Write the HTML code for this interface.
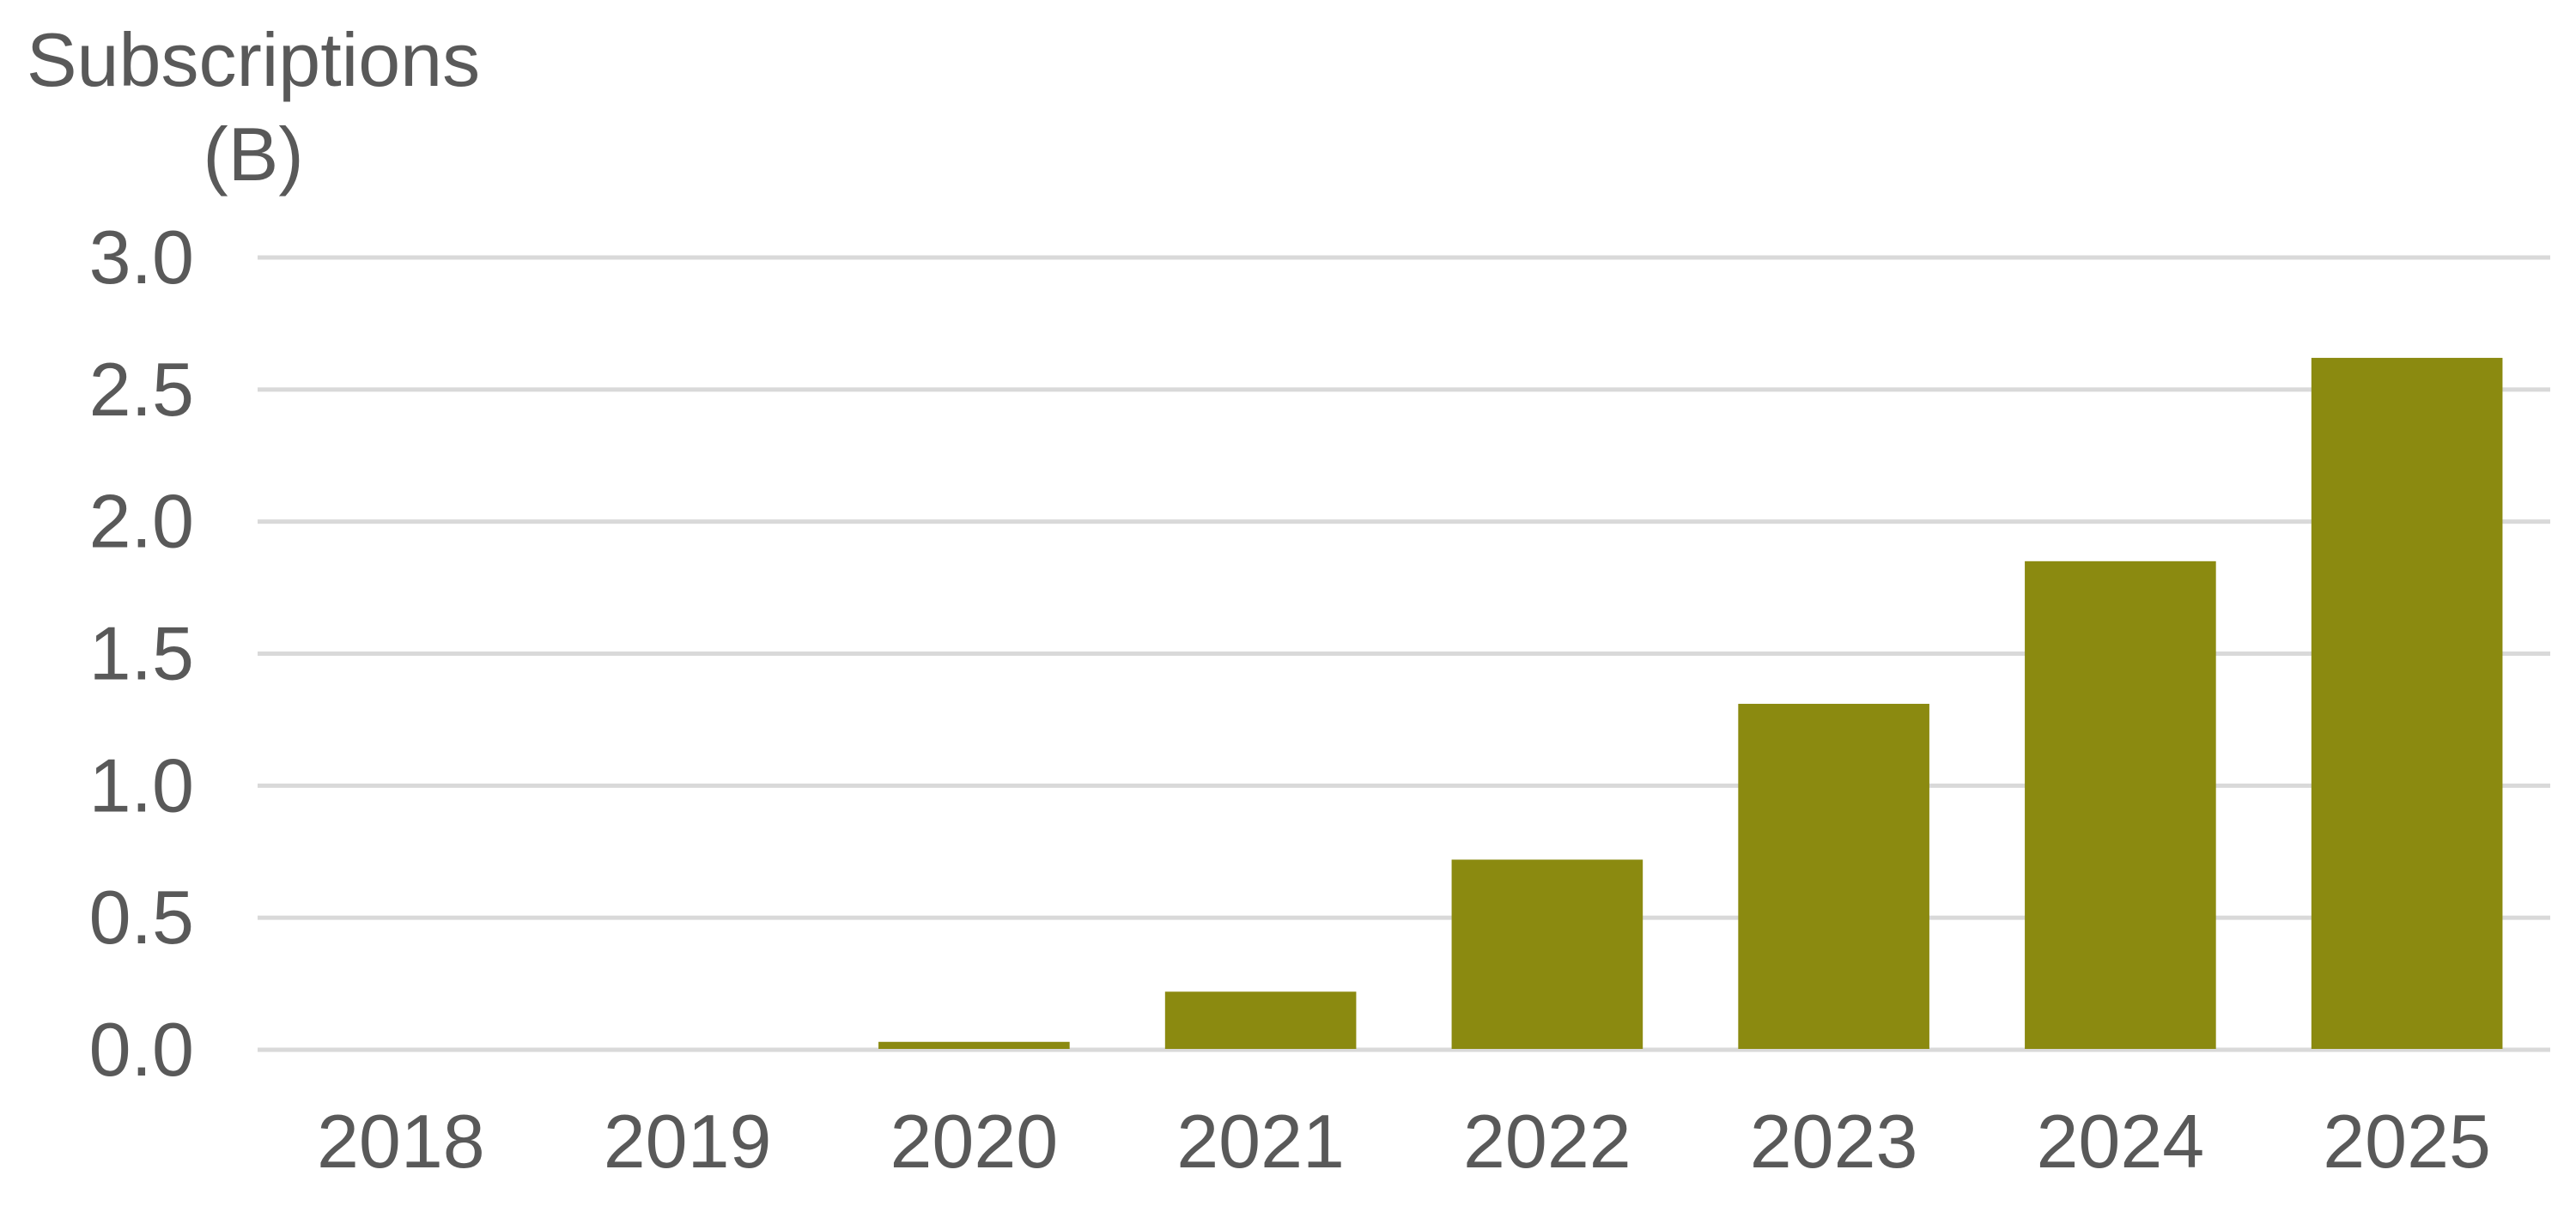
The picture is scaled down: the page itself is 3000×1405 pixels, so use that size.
<!DOCTYPE html>
<html><head><meta charset="utf-8"><style>
html,body{margin:0;padding:0;background:#fff;}
svg text{font-family:"Liberation Sans",Arial,sans-serif;fill:#595959;}
</style></head><body>
<svg id="chart" width="3000" height="1400" viewBox="0 0 3000 1400" xmlns="http://www.w3.org/2000/svg">
<text x="295" y="100" font-size="88" text-anchor="middle">Subscriptions</text>
<text x="295" y="210" font-size="88" text-anchor="middle">(B)</text>
<g id="grid"></g>
<g id="bars"></g>
<g id="yticks"></g>
<g id="xticks"></g>
</svg>
<script>
const categories = ["2018","2019","2020","2021","2022","2023","2024","2025"];
const values = [0, 0, 0.03, 0.22, 0.72, 1.31, 1.85, 2.62];
const yTicks = [0, 0.5, 1.0, 1.5, 2.0, 2.5, 3.0];
const yTickLabels = ["0.0","0.5","1.0","1.5","2.0","2.5","3.0"];

const NS = "http://www.w3.org/2000/svg";
const X0 = 300, X1 = 2970, Y0 = 1223, Y1 = 300, YMAX = 3.0;
const band = (X1 - X0) / categories.length;
const barW = band * 0.667;
function yScale(v){ return Y0 - (v / YMAX) * (Y0 - Y1); }
function xCenter(i){ return X0 + band * (i + 0.5); }

const grid = document.getElementById('grid');
const yt = document.getElementById('yticks');
yTicks.forEach((t, i) => {
  const y = yScale(t);
  const l = document.createElementNS(NS, 'rect');
  
  
  l.setAttribute('x', X0); l.setAttribute('y', y - 2.5);
  l.setAttribute('width', X1 - X0); l.setAttribute('height', 5);
  l.setAttribute('fill', '#d9d9d9');
  grid.appendChild(l);
  const tx = document.createElementNS(NS, 'text');
  
  
  tx.setAttribute('x', 226); tx.setAttribute('y', y + 30);
  tx.setAttribute('font-size', '88'); tx.setAttribute('text-anchor', 'end');
  tx.textContent = yTickLabels[i];
  yt.appendChild(tx);
});

const bars = document.getElementById('bars');
const xt = document.getElementById('xticks');
categories.forEach((c, i) => {
  const v = values[i];
  if (v > 0) {
    const r = document.createElementNS(NS, 'rect');
    
    
    r.setAttribute('x', xCenter(i) - barW / 2);
    r.setAttribute('y', yScale(v));
    r.setAttribute('width', barW);
    r.setAttribute('height', Y0 - 1 - yScale(v));
    r.setAttribute('fill', '#8b8a10');
    bars.appendChild(r);
  }
  const tx = document.createElementNS(NS, 'text');
  
  
  tx.setAttribute('x', xCenter(i)); tx.setAttribute('y', 1360);
  tx.setAttribute('font-size', '88'); tx.setAttribute('text-anchor', 'middle');
  tx.textContent = c;
  xt.appendChild(tx);
});
</script>
</body></html>
